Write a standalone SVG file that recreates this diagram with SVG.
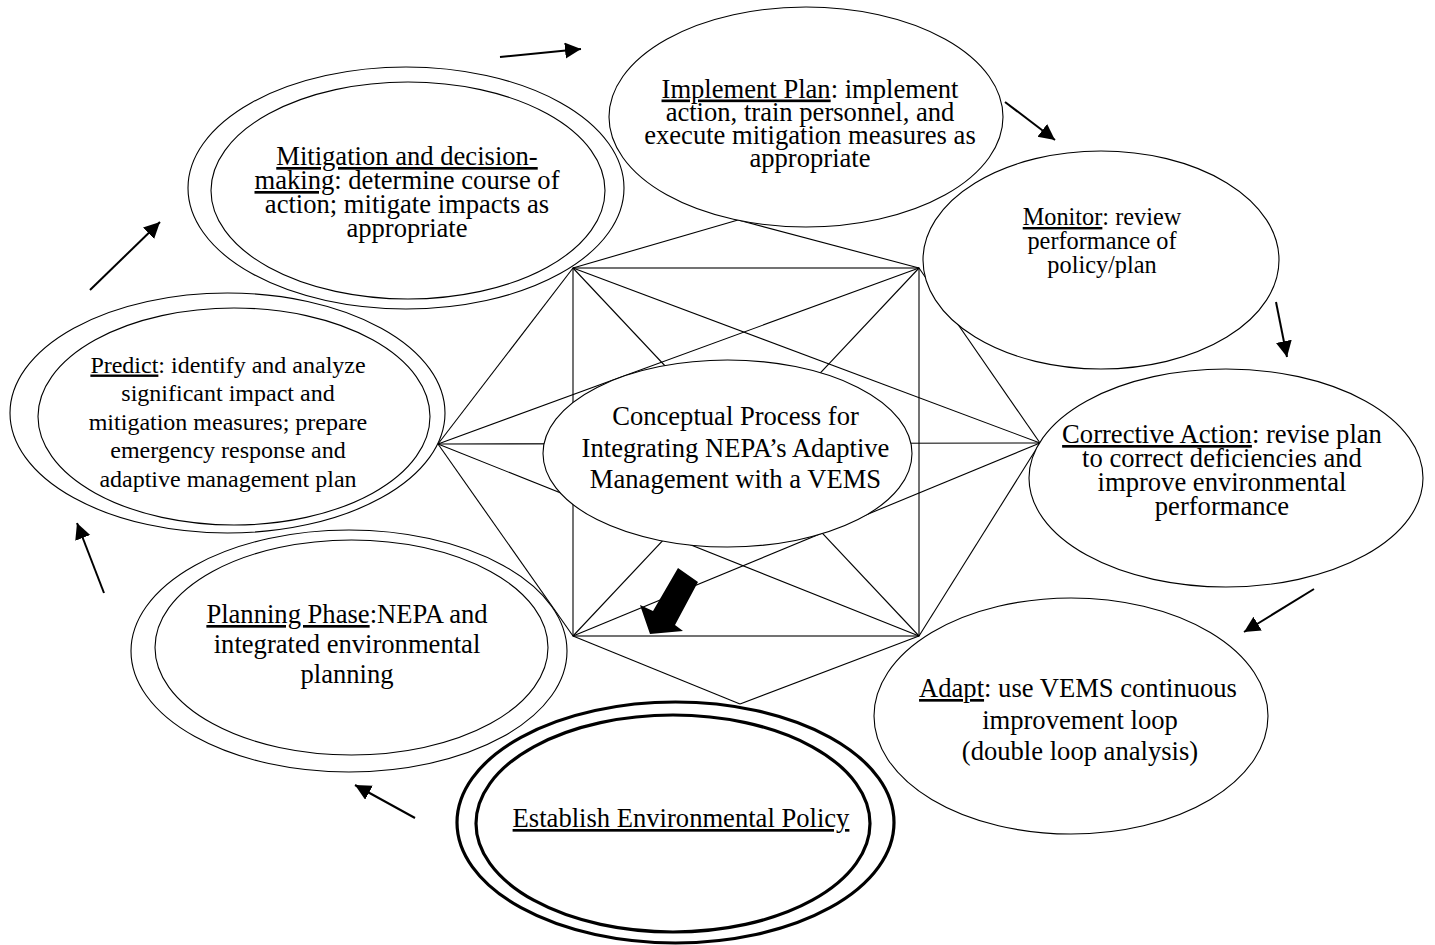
<svg xmlns="http://www.w3.org/2000/svg" width="1435" height="945" viewBox="0 0 1435 945">
<style>
.t{font-family:"Liberation Serif","Times New Roman",serif;font-size:26.6px;fill:#000;text-anchor:middle}
.s{font-size:24px}
.u{text-decoration:underline}
.e{fill:#fff;stroke:#000;stroke-width:1.1}
.eb{fill:#fff;stroke:#000;stroke-width:3.2}
.w{stroke:#000;stroke-width:1.1;fill:none}
.a{stroke:#000;stroke-width:2;fill:none;marker-end:url(#ah)}
</style>
<defs>
<marker id="ah" markerUnits="userSpaceOnUse" markerWidth="20" markerHeight="20" refX="16" refY="8" orient="auto">
<path d="M0,0 L16,8 L0,16 Z" fill="#000"/>
</marker>
</defs>
<rect width="1435" height="945" fill="#fff"/>
<g id="connectors">
<g class="w">
<rect x="573" y="268" width="346" height="368"/>
<line x1="738" y1="220" x2="573" y2="268"/>
<line x1="738" y1="220" x2="919" y2="268"/>
<line x1="438" y1="444" x2="573" y2="268"/>
<line x1="438" y1="444" x2="573" y2="636"/>
<line x1="1040" y1="443" x2="919" y2="268"/>
<line x1="1040" y1="443" x2="919" y2="636"/>
<line x1="740" y1="704" x2="573" y2="636"/>
<line x1="740" y1="704" x2="919" y2="636"/>
<line x1="573" y1="268" x2="919" y2="636"/>
<line x1="919" y1="268" x2="573" y2="636"/>
<line x1="573" y1="268" x2="1040" y2="443"/>
<line x1="573" y1="636" x2="1040" y2="443"/>
<line x1="919" y1="268" x2="438" y2="444"/>
<line x1="919" y1="636" x2="438" y2="444"/>
<line x1="438" y1="444" x2="1040" y2="443"/>
</g>
<line class="a" x1="500" y1="57" x2="581" y2="49"/>
<line class="a" x1="1005" y1="102" x2="1055" y2="140"/>
<line class="a" x1="1276" y1="302" x2="1287" y2="357"/>
<line class="a" x1="1314" y1="589" x2="1244" y2="632"/>
<line class="a" x1="415" y1="818" x2="355" y2="785"/>
<line class="a" x1="104" y1="593" x2="77" y2="523"/>
<line class="a" x1="90" y1="290" x2="160" y2="222"/>
<polygon points="678,568 698,582 675,625 683,631 650,634 640,605 653,611" fill="#000"/>
</g>
<g id="implement">
<ellipse class="e" cx="806" cy="117" rx="197" ry="110"/>
<text class="t"><tspan x="810" y="97.5"><tspan class="u">Implement Plan</tspan>: implement</tspan><tspan x="810" y="121">action, train personnel, and</tspan><tspan x="810" y="144">execute mitigation measures as</tspan><tspan x="810" y="167">appropriate</tspan></text>
</g>
<g id="monitor">
<ellipse class="e" cx="1101" cy="260" rx="178" ry="109"/>
<text class="t" style="font-size:24.3px"><tspan x="1102" y="225"><tspan class="u">Monitor</tspan>: review</tspan><tspan x="1102" y="249">performance of</tspan><tspan x="1102" y="273">policy/plan</tspan></text>
</g>
<g id="corrective">
<ellipse class="e" cx="1226" cy="478" rx="197" ry="109"/>
<text class="t"><tspan x="1222" y="443"><tspan class="u">Corrective Action</tspan>: revise plan</tspan><tspan x="1222" y="467">to correct deficiencies and</tspan><tspan x="1222" y="491">improve environmental</tspan><tspan x="1222" y="515">performance</tspan></text>
</g>
<g id="adapt">
<ellipse class="e" cx="1071" cy="716" rx="197" ry="118"/>
<text class="t"><tspan x="1078" y="697"><tspan class="u">Adapt</tspan>: use VEMS continuous</tspan><tspan x="1080" y="729">improvement loop</tspan><tspan x="1080" y="760">(double loop analysis)</tspan></text>
</g>
<g id="establish">
<ellipse class="eb" cx="675.5" cy="822.5" rx="218.5" ry="120.5"/>
<ellipse class="eb" cx="673" cy="823.5" rx="197" ry="108.5"/>
<text class="t"><tspan x="681" y="827" class="u">Establish Environmental Policy</tspan></text>
</g>
<g id="planning">
<ellipse class="e" cx="349" cy="651" rx="218" ry="121"/>
<ellipse class="e" cx="351.5" cy="647.5" rx="196.5" ry="107.5"/>
<text class="t"><tspan x="347" y="623"><tspan class="u">Planning Phase</tspan>:NEPA and</tspan><tspan x="347" y="653">integrated environmental</tspan><tspan x="347" y="683">planning</tspan></text>
</g>
<g id="predict">
<ellipse class="e" cx="227.5" cy="413" rx="217.5" ry="120"/>
<ellipse class="e" cx="234" cy="416.5" rx="196" ry="108.5"/>
<text class="t s"><tspan x="228" y="372.5"><tspan class="u">Predict</tspan>: identify and analyze</tspan><tspan x="228" y="401">significant impact and</tspan><tspan x="228" y="429.5">mitigation measures; prepare</tspan><tspan x="228" y="458">emergency response and</tspan><tspan x="228" y="486.5">adaptive management plan</tspan></text>
</g>
<g id="mitigation">
<ellipse class="e" cx="406" cy="188" rx="218" ry="121"/>
<ellipse class="e" cx="408" cy="190.5" rx="197" ry="108.5"/>
<text class="t"><tspan x="407" y="165" class="u">Mitigation and decision-</tspan><tspan x="407" y="189"><tspan class="u">making</tspan>: determine course of</tspan><tspan x="407" y="213">action; mitigate impacts as</tspan><tspan x="407" y="237">appropriate</tspan></text>
</g>
<g id="center">
<ellipse class="e" cx="727.5" cy="453.5" rx="184.5" ry="93.5"/>
<text class="t"><tspan x="735.5" y="425">Conceptual Process for</tspan><tspan x="735.5" y="457">Integrating NEPA’s Adaptive</tspan><tspan x="735.5" y="488">Management with a VEMS</tspan></text>
</g>
</svg>
